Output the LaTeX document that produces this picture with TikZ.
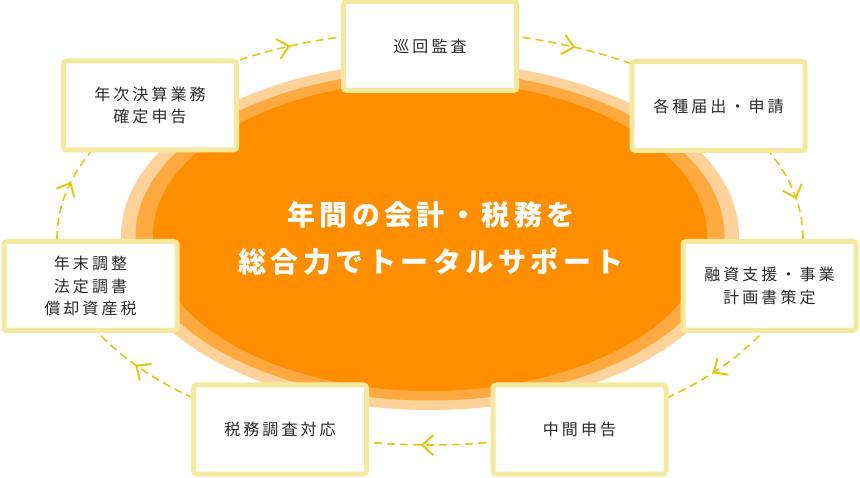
\documentclass[tikz,border=0pt]{standalone}
\usepackage{fontspec}
\newfontfamily\jp{Noto Sans CJK JP}[LetterSpace=19]
\newfontfamily\jpc{Noto Sans CJK JP}[LetterSpace=16]
\definecolor{ringA}{HTML}{FFD29A}
\definecolor{ringB}{HTML}{FFAA40}
\definecolor{ringC}{HTML}{FF8E00}
\definecolor{boxline}{HTML}{F5E9A0}
\definecolor{dashcol}{HTML}{E6C610}
\definecolor{txt}{HTML}{2A2A2A}
\tikzset{
 stepbox/.style={draw=boxline, line width=5pt, fill=white, rounded corners=3pt,
   minimum width=173pt, minimum height=89pt, inner sep=0pt, align=center,
   text=txt, font=\jp\fontsize{16}{22.5}\selectfont},
 cyc/.style={draw=dashcol, line width=1.6pt, dash pattern=on 8pt off 5pt},
 chevline/.style={draw=dashcol, line width=2pt},
 centertext/.style={text=white, align=center, font=\jpc\bfseries\fontsize{28}{47}\selectfont}
}
\newcommand\chevat[1]{%
 \pgfmathsetmacro\chx{430+373*cos(#1)}%
 \pgfmathsetmacro\chy{239+207*sin(#1)}%
 \pgfmathsetmacro\cha{atan2(-207*cos(#1),373*sin(#1))}%
 \coordinate (tip) at (\chx,\chy);
 \draw[chevline] (tip) ++(\cha+180-42:15) -- (tip) -- ++(\cha+180+42:15);
}
\begin{document}
\begin{tikzpicture}[x=1pt,y=1pt]
\useasboundingbox (0,0) rectangle (860,477);
% central ellipse rings
\fill[ringA] (430,241) ellipse [x radius=309pt, y radius=174pt];
\fill[ringB] (430,241) ellipse [x radius=294.5pt, y radius=164.5pt];
\fill[ringC] (430,241) ellipse [x radius=277pt, y radius=155pt];
\node[centertext] (center) at (431,239) {年間の会計・税務を\\総合力でトータルサポート};
% cycle path
\draw[cyc] (430,239) ellipse [x radius=373pt, y radius=207pt];
\foreach \t in {112.2,67.3,11.2,-40.5,268.8,218.1,164.6} {\chevat{\t}}
% boxes
\node[stepbox] (junkai) at (430,431) {巡回監査};
\node[stepbox] (kakushu) at (718.5,371) {各種届出・申請};
\node[stepbox] (nenji) at (150,371.5) {年次決算業務\\確定申告};
\node[stepbox] (yushi) at (769.5,191) {融資支援・事業\\計画書策定};
\node[stepbox] (nenmatsu) at (90.5,191) {年末調整\\法定調書\\償却資産税};
\node[stepbox] (chukan) at (579.5,47.5) {中間申告};
\node[stepbox] (zeimu) at (280,47.5) {税務調査対応};
\end{tikzpicture}
\end{document}
